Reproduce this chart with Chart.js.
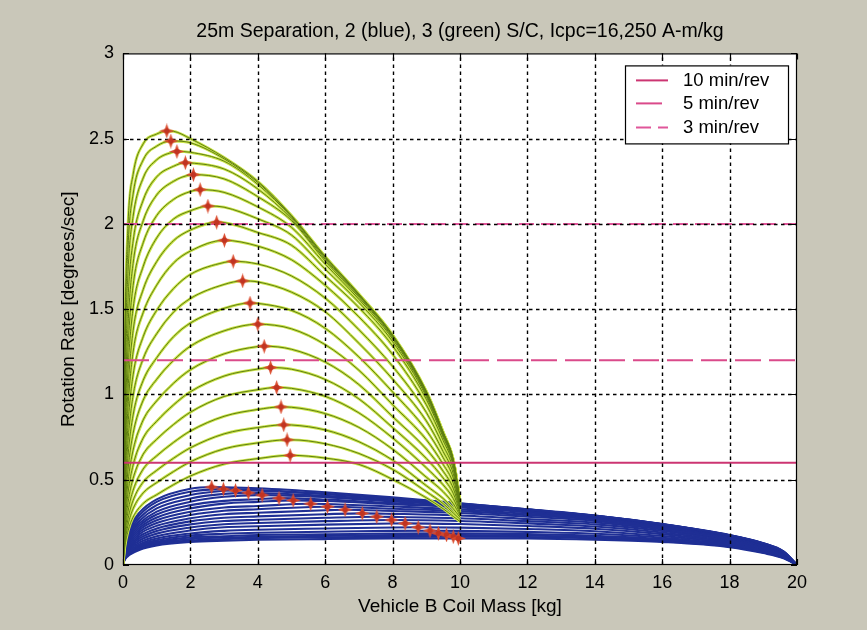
<!DOCTYPE html>
<html><head><meta charset="utf-8">
<script src="https://cdn.jsdelivr.net/npm/chart.js@4.4.0/dist/chart.umd.min.js"></script>
<style>
html,body{margin:0;padding:0;background:#c9c7b9;}
#wrap{width:867px;height:630px;position:relative;}
</style></head><body>
<div id="wrap"><canvas id="c" width="867" height="630"></canvas></div>
<script>
// ---------- text ----------
const titleText = '25m Separation, 2 (blue), 3 (green) S/C, Icpc=16,250 A-m/kg';
const xAxisTitle = 'Vehicle B Coil Mass [kg]';
const yAxisTitle = 'Rotation Rate [degrees/sec]';
const xTicks = [0, 2, 4, 6, 8, 10, 12, 14, 16, 18, 20];
const yTicks = [0, 0.5, 1, 1.5, 2, 2.5, 3];

// ---------- reference rotation rates ----------
const rateLabels = ['10 min/rev', '5 min/rev', '3 min/rev'];
const rateValues = [0.6, 1.2, 2.0];

// ---------- 3 S/C (green) family ----------
const greenX = [0, 0.05, 0.15, 0.3, 0.6, 1, 1.5, 2, 3, 4, 5, 6, 7, 8, 9, 9.5, 9.8, 10];
const g01 = [0, 1.25, 2.0, 2.29, 2.47, 2.527, 2.543, 2.5, 2.39, 2.25, 2.05, 1.81, 1.59, 1.35, 1.02, 0.78, 0.62, 0.38];
const g02 = [0, 1.19, 1.865, 2.175, 2.376, 2.456, 2.486, 2.476, 2.382, 2.243, 2.046, 1.806, 1.587, 1.347, 1.017, 0.778, 0.618, 0.378];
const g03 = [0, 1.057, 1.722, 2.044, 2.27, 2.376, 2.422, 2.42, 2.368, 2.232, 2.04, 1.80, 1.583, 1.344, 1.014, 0.776, 0.616, 0.376];
const g04 = [0, 0.92, 1.559, 1.899, 2.14, 2.276, 2.338, 2.358, 2.322, 2.205, 2.03, 1.792, 1.578, 1.34, 1.01, 0.773, 0.613, 0.373];
const g05 = [0, 0.808, 1.408, 1.769, 2.019, 2.17, 2.25, 2.288, 2.264, 2.16, 2.02, 1.782, 1.57, 1.334, 1.005, 0.77, 0.61, 0.37];
const g06 = [0, 0.714, 1.274, 1.639, 1.89, 2.049, 2.144, 2.19, 2.185, 2.10, 1.98, 1.765, 1.558, 1.325, 0.998, 0.765, 0.606, 0.366];
const g07 = [0, 0.629, 1.149, 1.505, 1.751, 1.918, 2.029, 2.077, 2.098, 2.03, 1.935, 1.735, 1.54, 1.31, 0.988, 0.758, 0.60, 0.362];
const g08 = [0, 0.559, 1.032, 1.374, 1.616, 1.779, 1.902, 1.964, 2.008, 1.95, 1.875, 1.695, 1.51, 1.285, 0.972, 0.748, 0.592, 0.357];
const g09 = [0, 0.489, 0.929, 1.249, 1.481, 1.641, 1.771, 1.841, 1.904, 1.87, 1.79, 1.64, 1.455, 1.235, 0.94, 0.73, 0.58, 0.352];
const g10 = [0, 0.422, 0.825, 1.115, 1.339, 1.494, 1.621, 1.704, 1.774, 1.765, 1.695, 1.565, 1.38, 1.165, 0.895, 0.70, 0.56, 0.346];
const g11 = [0, 0.367, 0.73, 0.993, 1.21, 1.356, 1.483, 1.563, 1.645, 1.66, 1.60, 1.485, 1.30, 1.09, 0.845, 0.665, 0.535, 0.34];
const g12 = [0, 0.32, 0.641, 0.88, 1.083, 1.215, 1.339, 1.419, 1.505, 1.534, 1.493, 1.388, 1.22, 1.015, 0.79, 0.63, 0.51, 0.334];
const g13 = [0, 0.279, 0.56, 0.772, 0.967, 1.089, 1.2, 1.283, 1.373, 1.412, 1.385, 1.292, 1.142, 0.94, 0.735, 0.59, 0.48, 0.33];
const g14 = [0, 0.242, 0.488, 0.674, 0.851, 0.962, 1.066, 1.145, 1.238, 1.281, 1.265, 1.19, 1.058, 0.87, 0.68, 0.55, 0.45, 0.32];
const g15 = [0, 0.211, 0.423, 0.586, 0.745, 0.843, 0.939, 1.016, 1.108, 1.149, 1.148, 1.088, 0.974, 0.806, 0.625, 0.51, 0.42, 0.31];
const g16 = [0, 0.181, 0.366, 0.508, 0.65, 0.737, 0.824, 0.896, 0.988, 1.028, 1.036, 0.989, 0.892, 0.745, 0.57, 0.47, 0.39, 0.30];
const g17 = [0, 0.158, 0.315, 0.438, 0.563, 0.64, 0.719, 0.786, 0.872, 0.912, 0.925, 0.888, 0.807, 0.679, 0.515, 0.43, 0.36, 0.29];
const g18 = [0, 0.136, 0.271, 0.379, 0.487, 0.555, 0.626, 0.687, 0.769, 0.806, 0.821, 0.792, 0.723, 0.615, 0.465, 0.39, 0.33, 0.28];
const g19 = [0, 0.118, 0.235, 0.33, 0.423, 0.483, 0.548, 0.605, 0.681, 0.716, 0.734, 0.711, 0.654, 0.561, 0.43, 0.36, 0.305, 0.268];
const g20 = [0, 0.10, 0.20, 0.281, 0.361, 0.412, 0.471, 0.522, 0.592, 0.624, 0.643, 0.627, 0.59, 0.502, 0.394, 0.33, 0.285, 0.255];
const greenPeakX = [1.30, 1.42, 1.60, 1.85, 2.09, 2.29, 2.52, 2.78, 3.01, 3.27, 3.55, 3.77, 4.00, 4.19, 4.38, 4.56, 4.69, 4.77, 4.87, 4.96];
const greenPeakY = [2.545, 2.486, 2.425, 2.359, 2.289, 2.201, 2.105, 2.010, 1.904, 1.781, 1.666, 1.536, 1.412, 1.283, 1.158, 1.041, 0.927, 0.822, 0.734, 0.643];

// ---------- 2 S/C (blue) family ----------
const blueX = [0, 0.05, 0.2, 0.5, 1, 2, 3, 4, 6, 8, 10, 12, 14, 16, 18, 19, 19.6, 20];
const b01 = [0, 0.12, 0.22, 0.31, 0.385, 0.447, 0.456, 0.45, 0.427, 0.397, 0.362, 0.327, 0.29, 0.24, 0.176, 0.128, 0.08, 0];
const b02 = [0, 0.114, 0.209, 0.294, 0.37, 0.43, 0.445, 0.44, 0.418, 0.391, 0.361, 0.326, 0.29, 0.24, 0.175, 0.127, 0.079, 0];
const b03 = [0, 0.107, 0.198, 0.277, 0.351, 0.41, 0.435, 0.435, 0.415, 0.387, 0.359, 0.325, 0.289, 0.239, 0.174, 0.126, 0.078, 0];
const b04 = [0, 0.101, 0.187, 0.261, 0.332, 0.39, 0.417, 0.422, 0.406, 0.379, 0.356, 0.323, 0.288, 0.238, 0.173, 0.125, 0.077, 0];
const b05 = [0, 0.095, 0.176, 0.246, 0.313, 0.371, 0.40, 0.41, 0.398, 0.373, 0.351, 0.319, 0.286, 0.236, 0.171, 0.124, 0.076, 0];
const b06 = [0, 0.09, 0.165, 0.233, 0.296, 0.351, 0.376, 0.386, 0.384, 0.363, 0.343, 0.314, 0.283, 0.233, 0.169, 0.122, 0.075, 0];
const b07 = [0, 0.084, 0.155, 0.22, 0.279, 0.332, 0.36, 0.37, 0.375, 0.356, 0.338, 0.308, 0.279, 0.23, 0.166, 0.12, 0.073, 0];
const b08 = [0, 0.079, 0.145, 0.208, 0.262, 0.312, 0.337, 0.346, 0.358, 0.343, 0.326, 0.30, 0.273, 0.226, 0.163, 0.117, 0.071, 0];
const b09 = [0, 0.073, 0.134, 0.195, 0.246, 0.293, 0.318, 0.327, 0.342, 0.33, 0.316, 0.292, 0.267, 0.221, 0.159, 0.114, 0.069, 0];
const b10 = [0, 0.068, 0.124, 0.183, 0.23, 0.274, 0.298, 0.306, 0.321, 0.317, 0.305, 0.283, 0.259, 0.215, 0.155, 0.111, 0.067, 0];
const b11 = [0, 0.063, 0.115, 0.17, 0.214, 0.256, 0.277, 0.285, 0.298, 0.30, 0.29, 0.27, 0.249, 0.208, 0.15, 0.107, 0.064, 0];
const b12 = [0, 0.058, 0.107, 0.157, 0.199, 0.238, 0.258, 0.265, 0.277, 0.282, 0.274, 0.257, 0.238, 0.20, 0.145, 0.103, 0.061, 0];
const b13 = [0, 0.054, 0.098, 0.145, 0.184, 0.22, 0.239, 0.246, 0.257, 0.264, 0.258, 0.244, 0.226, 0.191, 0.139, 0.099, 0.058, 0];
const b14 = [0, 0.049, 0.09, 0.133, 0.169, 0.202, 0.221, 0.227, 0.237, 0.2435, 0.24, 0.229, 0.213, 0.181, 0.133, 0.095, 0.055, 0];
const b15 = [0, 0.045, 0.082, 0.122, 0.155, 0.185, 0.20, 0.207, 0.214, 0.22, 0.219, 0.211, 0.198, 0.17, 0.127, 0.09, 0.052, 0];
const b16 = [0, 0.042, 0.077, 0.115, 0.145, 0.173, 0.183, 0.189, 0.195, 0.20, 0.20, 0.194, 0.183, 0.16, 0.121, 0.086, 0.049, 0];
const b17 = [0, 0.039, 0.073, 0.108, 0.136, 0.162, 0.169, 0.176, 0.18, 0.185, 0.1856, 0.181, 0.171, 0.152, 0.116, 0.082, 0.047, 0];
const b18 = [0, 0.036, 0.069, 0.102, 0.129, 0.152, 0.161, 0.166, 0.171, 0.175, 0.176, 0.173, 0.163, 0.146, 0.112, 0.078, 0.045, 0];
const b19 = [0, 0.033, 0.064, 0.096, 0.122, 0.143, 0.152, 0.158, 0.162, 0.165, 0.166, 0.164, 0.156, 0.14, 0.108, 0.074, 0.042, 0];
const b20 = [0, 0.03, 0.06, 0.09, 0.115, 0.135, 0.143, 0.148, 0.152, 0.155, 0.156, 0.155, 0.148, 0.135, 0.105, 0.07, 0.04, 0];
const bluePeakX = [2.63, 2.98, 3.34, 3.72, 4.13, 4.63, 5.05, 5.57, 6.07, 6.59, 7.10, 7.53, 7.97, 8.37, 8.76, 9.11, 9.36, 9.60, 9.80, 9.95];
const bluePeakY = [0.457, 0.445, 0.437, 0.423, 0.410, 0.392, 0.379, 0.359, 0.342, 0.324, 0.303, 0.283, 0.264, 0.244, 0.221, 0.201, 0.186, 0.176, 0.166, 0.156];

const greenSeries = [g01,g02,g03,g04,g05,g06,g07,g08,g09,g10,g11,g12,g13,g14,g15,g16,g17,g18,g19,g20];
const blueSeries = [b01,b02,b03,b04,b05,b06,b07,b08,b09,b10,b11,b12,b13,b14,b15,b16,b17,b18,b19,b20];

// ---------- styles ----------
const FONT = '"Liberation Sans", Arial, Helvetica, sans-serif';
const rateColors = ['#cc3572', '#da4a8a', '#e0569a'];
const rateDash = [[], [26, 8], [15, 7]];

function buildCurve(xs, ys, px, py) {
  const pts = xs.map((x, i) => ({x: x, y: ys[i]}));
  if (!xs.includes(px)) { pts.push({x: px, y: py}); pts.sort((a, b) => a.x - b.x); }
  return pts;
}

const star = document.createElement('canvas');
star.width = 15; star.height = 15;
(function () {
  const g = star.getContext('2d');
  g.beginPath();
  g.moveTo(7.5, 0); g.lineTo(9.4, 5.6); g.lineTo(15, 7.5); g.lineTo(9.4, 9.4);
  g.lineTo(7.5, 15); g.lineTo(5.6, 9.4); g.lineTo(0, 7.5); g.lineTo(5.6, 5.6);
  g.closePath();
  g.fillStyle = '#da4a2c'; g.fill();
  g.beginPath(); g.arc(7.5, 7.5, 2.8, 0, Math.PI * 2); g.fillStyle = '#c03422'; g.fill();
})();

const datasets = [];
datasets.push({label: 'green peaks', data: greenPeakX.map((x, i) => ({x: x, y: greenPeakY[i]})),
  showLine: false, pointStyle: star, pointRadius: 7, pointHoverRadius: 7});
datasets.push({label: 'blue peaks', data: bluePeakX.map((x, i) => ({x: x, y: bluePeakY[i]})),
  showLine: false, pointStyle: star, pointRadius: 7, pointHoverRadius: 7});
rateValues.forEach((v, i) => {
  datasets.push({label: rateLabels[i], data: [{x: xTicks[0], y: v}, {x: xTicks[xTicks.length - 1], y: v}],
    showLine: true, pointRadius: 0, borderColor: rateColors[i], borderWidth: 2, borderDash: rateDash[i]});
});
const lineCommon = {showLine: true, pointRadius: 0, pointHoverRadius: 0, cubicInterpolationMode: 'monotone', fill: false};
greenSeries.forEach((ys, i) => {
  datasets.push(Object.assign({label: 'g core ' + i, data: buildCurve(greenX, ys, greenPeakX[i], greenPeakY[i]),
    borderColor: '#5f7f12', borderWidth: 1}, lineCommon));
});
greenSeries.forEach((ys, i) => {
  datasets.push(Object.assign({label: 'g glow ' + i, data: buildCurve(greenX, ys, greenPeakX[i], greenPeakY[i]),
    borderColor: '#cbe44a', borderWidth: 2.8}, lineCommon));
});
blueSeries.forEach((ys, i) => {
  datasets.push(Object.assign({label: 'b ' + i, data: buildCurve(blueX, ys, bluePeakX[i], bluePeakY[i]),
    borderColor: '#1f2f95', borderWidth: 2.1}, lineCommon));
});

const framePlugin = {
  id: 'frame',
  beforeDraw(chart) {
    const {ctx, chartArea: a} = chart;
    ctx.save();
    ctx.fillStyle = '#c9c7b9';
    ctx.fillRect(0, 0, chart.width, chart.height);
    ctx.fillStyle = '#ffffff';
    ctx.fillRect(a.left, a.top, a.right - a.left, a.bottom - a.top);
    ctx.restore();
  },
  beforeDatasetDraw(chart, args) {
    if (args.index !== 1) return;
    const {ctx, chartArea: a, scales} = chart;
    ctx.save();
    ctx.strokeStyle = '#000';
    ctx.lineWidth = 1.4;
    ctx.setLineDash([3.5, 3.5]);
    xTicks.slice(1, -1).forEach(v => {
      const px = Math.round(scales.x.getPixelForValue(v)) + 0.5;
      ctx.beginPath(); ctx.moveTo(px, a.bottom); ctx.lineTo(px, a.top); ctx.stroke();
    });
    yTicks.slice(1, -1).forEach(v => {
      const py = Math.round(scales.y.getPixelForValue(v)) + 0.5;
      ctx.beginPath(); ctx.moveTo(a.left, py); ctx.lineTo(a.right, py); ctx.stroke();
    });
    ctx.restore();
  },
  afterDraw(chart) {
    const {ctx, chartArea: a, scales} = chart;
    ctx.save();
    ctx.strokeStyle = '#000';
    ctx.lineWidth = 1.2;
    ctx.setLineDash([]);
    ctx.strokeRect(a.left + 0.5, a.top + 0.5, a.right - a.left - 1, a.bottom - a.top - 1);
    const tl = 6;
    ctx.beginPath();
    xTicks.forEach(v => {
      const px = Math.round(scales.x.getPixelForValue(v)) + 0.5;
      ctx.moveTo(px, a.bottom); ctx.lineTo(px, a.bottom - tl);
      ctx.moveTo(px, a.top); ctx.lineTo(px, a.top + tl);
    });
    yTicks.forEach(v => {
      const py = Math.round(scales.y.getPixelForValue(v)) + 0.5;
      ctx.moveTo(a.left, py); ctx.lineTo(a.left + tl, py);
      ctx.moveTo(a.right, py); ctx.lineTo(a.right - tl, py);
    });
    ctx.stroke();
    // legend box
    const bw = 163, bh = 78;
    const bx = a.right - 9 - bw, by = a.top + 12;
    ctx.fillStyle = '#ffffff';
    ctx.fillRect(bx, by, bw, bh);
    ctx.lineWidth = 1.2;
    ctx.strokeRect(bx + 0.5, by + 0.5, bw, bh);
    const rows = [15, 38, 62];
    ctx.font = '18.5px ' + FONT;
    ctx.textBaseline = 'middle';
    ctx.textAlign = 'left';
    rateLabels.forEach((lab, i) => {
      const ry = by + rows[i];
      ctx.strokeStyle = rateColors[i];
      ctx.lineWidth = 2;
      ctx.setLineDash(rateDash[i]);
      ctx.beginPath(); ctx.moveTo(bx + 11, ry); ctx.lineTo(bx + 43, ry); ctx.stroke();
      ctx.setLineDash([]);
      ctx.fillStyle = '#000';
      ctx.fillText(lab, bx + 58, ry + 1);
    });
    ctx.restore();
  }
};

new Chart(document.getElementById('c'), {
  type: 'scatter',
  data: {datasets: datasets},
  options: {
    responsive: false,
    devicePixelRatio: 1,
    animation: false,
    events: [],
    layout: {padding: {left: 0, right: 70, top: 0, bottom: 0}},
    plugins: {
      legend: {display: false},
      tooltip: {enabled: false},
      title: {display: true, fullSize: false, text: titleText, color: '#000',
        font: {family: FONT, size: 19.5, weight: 'normal'}, padding: {top: 20, bottom: 10}}
    },
    scales: {
      x: {
        type: 'linear', min: 0, max: 20,
        afterBuildTicks: s => { s.ticks = xTicks.map(v => ({value: v})); },
        afterFit: s => { s.height = 65; },
        grid: {display: false, drawTicks: false},
        border: {display: false},
        ticks: {color: '#000', font: {family: FONT, size: 18}, padding: 7, maxRotation: 0, callback: v => String(v)},
        title: {display: true, text: xAxisTitle, color: '#000', font: {family: FONT, size: 19}, padding: {top: 0, bottom: 12}}
      },
      y: {
        type: 'linear', min: 0, max: 3,
        afterBuildTicks: s => { s.ticks = yTicks.map(v => ({value: v})); },
        afterFit: s => { s.width = 123; },
        grid: {display: false, drawTicks: false},
        border: {display: false},
        ticks: {color: '#000', font: {family: FONT, size: 18}, padding: 9, callback: v => String(v)},
        title: {display: true, text: yAxisTitle, color: '#000', font: {family: FONT, size: 19}, padding: {top: 57, bottom: 0}}
      }
    }
  },
  plugins: [framePlugin]
});
</script>
</body></html>
